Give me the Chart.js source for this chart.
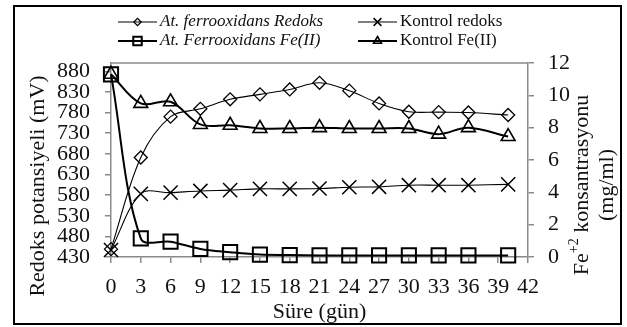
<!DOCTYPE html>
<html>
<head>
<meta charset="utf-8">
<script src="https://cdn.jsdelivr.net/npm/chart.js@4.4.1/dist/chart.umd.min.js"></script>
<style>
  html, body { margin: 0; padding: 0; background: #fff; }
  canvas { display: block; }
</style>
</head>
<body>
<canvas id="c" width="627" height="327"></canvas>
<script>
// Sampling days
const days = [0, 3, 6, 9, 12, 15, 18, 21, 24, 27, 30, 33, 36, 40];

// Redox potential (mV), left axis
const redoxBio  = [449, 671, 770, 789, 812, 824, 836, 852, 833, 802, 782, 781, 780, 774];
const redoxCtrl = [447, 583, 586, 590, 592, 595, 595, 596, 599, 600, 604, 604, 604, 606];

// Fe(II) concentration (mg/ml), right axis
const ironBio  = [11.3, 1.15, 0.95, 0.5, 0.3, 0.15, 0.12, 0.1, 0.1, 0.1, 0.1, 0.1, 0.1, 0.1];
const ironCtrl = [11.3, 9.5, 9.6, 8.2, 8.15, 7.95, 7.95, 8.0, 7.95, 7.95, 7.95, 7.6, 8.0, 7.45];

// Tick labels
const dayTicks   = [0, 3, 6, 9, 12, 15, 18, 21, 24, 27, 30, 33, 36, 39, 42];
const redoxTicks = [430, 480, 530, 580, 630, 680, 730, 780, 830, 880];
const ironTicks  = [0, 2, 4, 6, 8, 10, 12];

// Text
const seriesNames = ['At. ferrooxidans Redoks', 'Kontrol redoks', 'At. Ferrooxidans Fe(II)', 'Kontrol Fe(II)'];
const xTitle = 'Süre (gün)';
const leftTitle = 'Redoks potansiyeli (mV)';
const rightTitleParts = ['Fe', '+2', ' konsantrasyonu'];
const rightTitleLine2 = '(mg/ml)';

const SERIF = "'Liberation Serif', 'Times New Roman', serif";
const AXIS_GRAY = '#8a8a8a';
const INK = '#111';

const pts = (ys) => days.map((d, i) => ({ x: d, y: ys[i] }));

const datasets = [
  { label: seriesNames[0], data: pts(redoxBio), yAxisID: 'yL',
    pointStyle: 'rectRot', pointRadius: 6.5, pointBorderWidth: 1.3, borderWidth: 1.1,
    legendRadius: 3.6, legendItalic: true },
  { label: seriesNames[1], data: pts(redoxCtrl), yAxisID: 'yL',
    pointStyle: 'crossRot', pointRadius: 10, pointBorderWidth: 1.5, borderWidth: 1.1,
    legendRadius: 5.5, legendItalic: false },
  { label: seriesNames[2], data: pts(ironBio), yAxisID: 'yR',
    pointStyle: 'rect', pointRadius: 10, pointBorderWidth: 2, borderWidth: 2,
    legendRadius: 6, legendItalic: true },
  { label: seriesNames[3], data: pts(ironCtrl), yAxisID: 'yR',
    pointStyle: 'triangle', pointRadius: 8, pointBorderWidth: 1.6, borderWidth: 2,
    legendRadius: 4.5, legendItalic: false }
].map(ds => Object.assign({
  borderColor: '#000',
  backgroundColor: 'rgba(0,0,0,0)',
  pointBorderColor: '#000',
  pointBackgroundColor: 'rgba(0,0,0,0)',
  pointHoverRadius: ds.pointRadius,
  tension: 0.35,
  clip: false
}, ds));

const tickFont = { family: SERIF, size: 22 };

function fixedTicks(values) {
  return (scale) => { scale.ticks = values.map(v => ({ value: v })); };
}

function axisGrid() {
  return { display: true, drawOnChartArea: false, drawTicks: true, tickLength: 6,
           color: AXIS_GRAY, lineWidth: 1.5 };
}

// Frame, titles and legend drawn around the plot
const decorations = {
  id: 'decorations',
  afterDraw(chart) {
    const ctx = chart.ctx;
    const area = chart.chartArea;
    ctx.save();

    // top edge of the plot area
    ctx.strokeStyle = AXIS_GRAY;
    ctx.lineWidth = 1.5;
    ctx.beginPath();
    ctx.moveTo(area.left, area.top);
    ctx.lineTo(area.right, area.top);
    ctx.stroke();

    // outer frame
    ctx.strokeStyle = '#000';
    ctx.lineWidth = 2;
    ctx.strokeRect(14, 6, 607, 318);

    ctx.fillStyle = INK;
    ctx.textBaseline = 'middle';

    // x title
    ctx.font = `22px ${SERIF}`;
    ctx.textAlign = 'center';
    ctx.fillText(xTitle, (area.left + area.right) / 2, 312);

    // left title
    ctx.save();
    ctx.translate(38, 186);
    ctx.rotate(-Math.PI / 2);
    ctx.fillText(leftTitle, 0, 0);
    ctx.restore();

    // right title, with superscript charge
    ctx.save();
    ctx.translate(582, 185);
    ctx.rotate(-Math.PI / 2);
    ctx.textAlign = 'left';
    const big = `22px ${SERIF}`, small = `14px ${SERIF}`;
    ctx.font = big;
    const w0 = ctx.measureText(rightTitleParts[0]).width;
    const w2 = ctx.measureText(rightTitleParts[2]).width;
    ctx.font = small;
    const w1 = ctx.measureText(rightTitleParts[1]).width;
    let x = -(w0 + w1 + w2) / 2;
    ctx.font = big;
    ctx.fillText(rightTitleParts[0], x, 0);
    x += w0;
    ctx.font = small;
    ctx.fillText(rightTitleParts[1], x, -8);
    x += w1;
    ctx.font = big;
    ctx.fillText(rightTitleParts[2], x, 0);
    ctx.textAlign = 'center';
    ctx.fillText(rightTitleLine2, 0, 25);
    ctx.restore();

    // legend: two columns, two rows
    const cols = [118, 358];
    const rows = [22, 41];
    chart.data.datasets.forEach((ds, i) => {
      const lx = cols[i % 2];
      const ly = rows[Math.floor(i / 2)];
      ctx.strokeStyle = '#000';
      ctx.lineWidth = ds.borderWidth;
      ctx.beginPath();
      ctx.moveTo(lx, ly);
      ctx.lineTo(lx + 39, ly);
      ctx.stroke();
      ctx.lineWidth = ds.pointBorderWidth;
      ctx.fillStyle = 'rgba(0,0,0,0)';
      Chart.helpers.drawPoint(ctx, {
        pointStyle: ds.pointStyle, radius: ds.legendRadius, rotation: 0,
        borderWidth: ds.pointBorderWidth
      }, lx + 19.5, ly);
      ctx.fillStyle = INK;
      ctx.textAlign = 'left';
      ctx.font = `${ds.legendItalic ? 'italic ' : ''}17px ${SERIF}`;
      ctx.fillText(ds.label, lx + 42, ly);
    });

    ctx.restore();
  }
};

new Chart(document.getElementById('c'), {
  type: 'line',
  data: { datasets },
  plugins: [decorations],
  options: {
    responsive: false,
    devicePixelRatio: 1,
    animation: false,
    events: [],
    layout: { padding: { top: 63, left: 0, right: 0, bottom: 0 } },
    plugins: { legend: { display: false }, tooltip: { enabled: false } },
    scales: {
      x: {
        type: 'linear', min: 0, max: 42,
        afterBuildTicks: fixedTicks(dayTicks),
        afterFit: (s) => { s.height = 70; },
        grid: axisGrid(),
        border: { display: true, color: AXIS_GRAY, width: 1.5 },
        ticks: { font: tickFont, color: INK, padding: 11, maxRotation: 0, autoSkip: false }
      },
      yL: {
        type: 'linear', position: 'left', min: 430, max: 900,
        afterBuildTicks: fixedTicks(redoxTicks),
        afterFit: (s) => { s.width = 111; },
        grid: axisGrid(),
        border: { display: true, color: AXIS_GRAY, width: 1.5 },
        ticks: { font: tickFont, color: INK, padding: 15, autoSkip: false }
      },
      yR: {
        type: 'linear', position: 'right', min: 0, max: 12,
        afterBuildTicks: fixedTicks(ironTicks),
        afterFit: (s) => { s.width = 99; },
        grid: axisGrid(),
        border: { display: true, color: AXIS_GRAY, width: 1.5 },
        ticks: { font: tickFont, color: INK, padding: 14, autoSkip: false }
      }
    }
  }
});
</script>
</body>
</html>
